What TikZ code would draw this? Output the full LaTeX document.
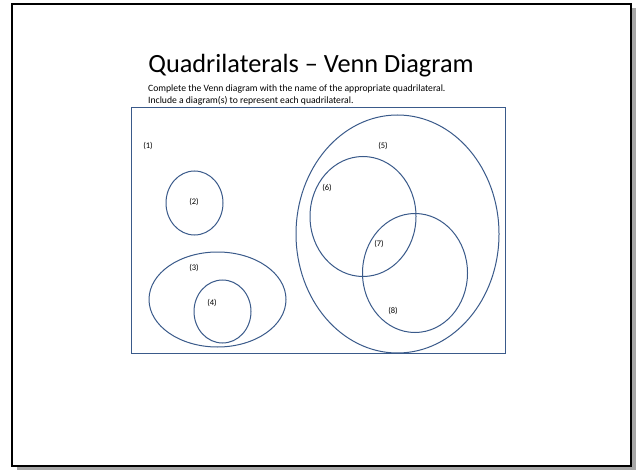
\documentclass[tikz,border=0pt]{standalone}
\usepackage{fontspec}
\setmainfont{Carlito}
\usepackage{xcolor}
\definecolor{vennblue}{HTML}{3A5A8A}

\begin{document}
\begin{tikzpicture}[x=1pt,y=-1pt,
    set/.style={draw=vennblue, line width=1pt},
    num/.style={font=\fontsize{8.5}{9}\selectfont}]
      % \draw[help lines, gray!50, very thin] (0,0) grid (639,470);
      \useasboundingbox (0,0) rectangle (639,470);

      % slide frame with shadow
      \fill[gray!70] (17,466) rectangle (636,470);
      \fill[gray!70] (631,8) rectangle (636,470);
      \draw[fill=white, line width=1.8pt] (12,4) rectangle (631,466);

      \node (title) at (311,66) {\fontsize{26.3}{30}\selectfont Quadrilaterals – Venn Diagram};
      \node[anchor=west, inner sep=0pt] (task1) at (148,89) {\fontsize{9.65}{11}\selectfont Complete the Venn diagram with the name of the appropriate quadrilateral.};
      \node[anchor=west, inner sep=0pt] (task2) at (148,101) {\fontsize{9.65}{11}\selectfont Include a diagram(s) to represent each quadrilateral.};

      % universal set
      \draw[set] (131,108) rectangle (505,353);
      \node[num] (n1) at (148,146) {(1)};

      % left sets
      \draw[set] (194.5,203) ellipse [x radius=28.5, y radius=32];
      \node[num] (n2) at (194,202) {(2)};
      \draw[set] (217.5,299.5) ellipse [x radius=68.5, y radius=47.5];
      \node[num] (n3) at (194,268) {(3)};
      \draw[set] (222.5,311.5) ellipse [x radius=28.5, y radius=31.5];
      \node[num] (n4) at (212,303) {(4)};

      % right sets
      \draw[set] (397.5,234) ellipse [x radius=101.5, y radius=119];
      \node[num] (n5) at (383,146) {(5)};
      \draw[set] (363,216.5) ellipse [x radius=53, y radius=60];
      \node[num] (n6) at (327,188) {(6)};
      \draw[set] (415,273) ellipse [x radius=52.5, y radius=59.5];
      \node[num] (n7) at (379,244) {(7)};
      \node[num] (n8) at (393,311) {(8)};
    \end{tikzpicture}
\end{document}
